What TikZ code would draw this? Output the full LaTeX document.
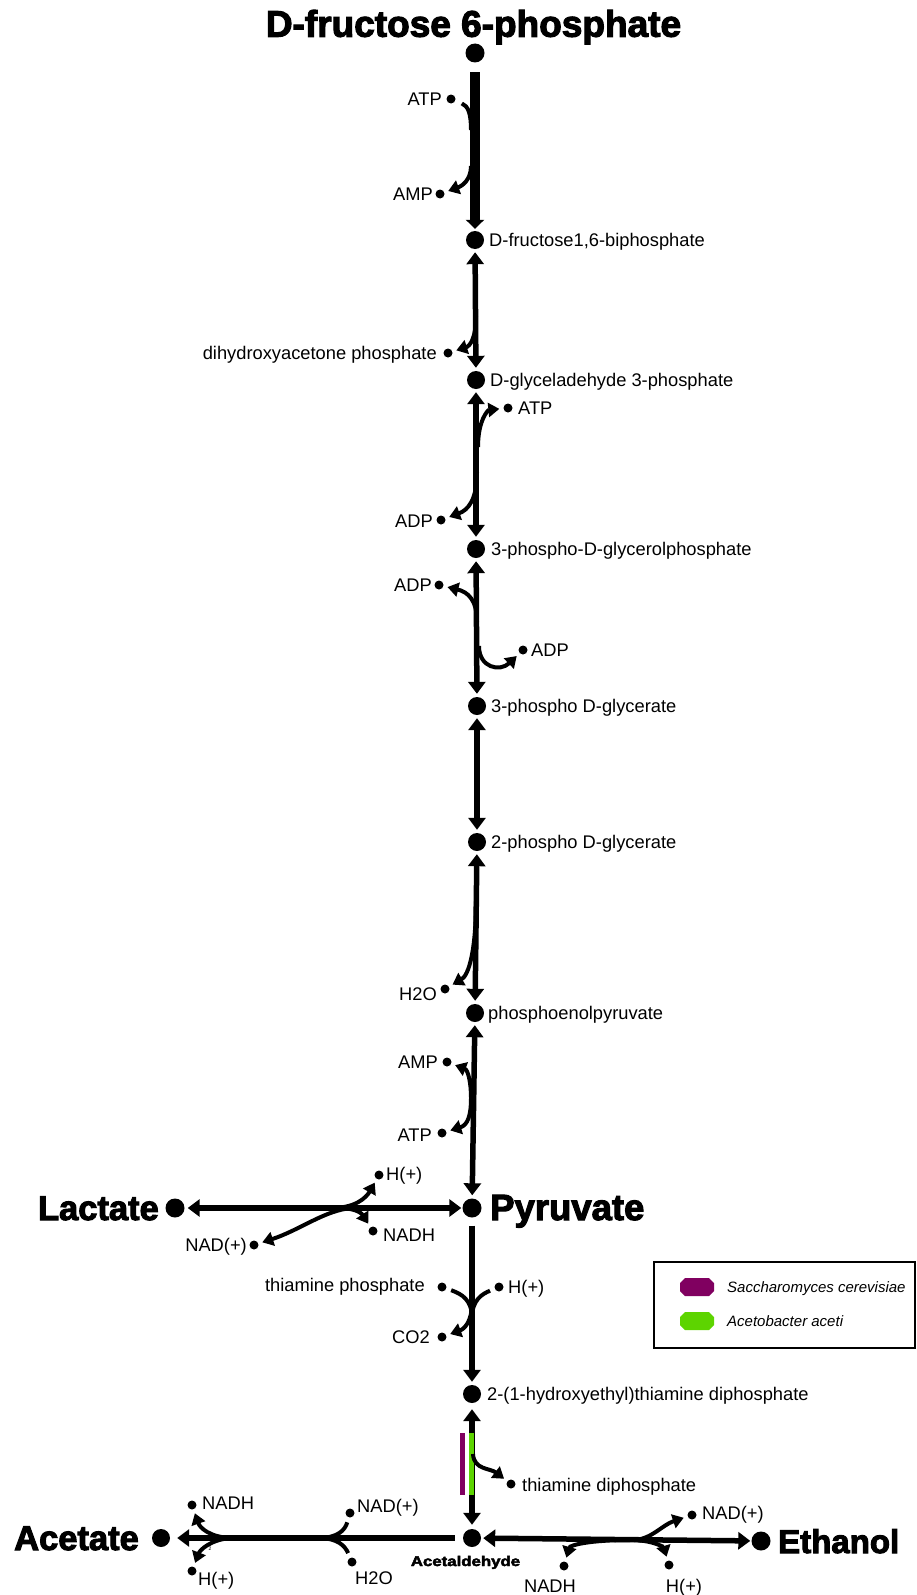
\documentclass[tikz,border=0pt]{standalone}
\usepackage{fontspec}
\setmainfont{Liberation Sans}
\newfontfamily\heavyfont[FakeBold=3]{Liberation Sans Bold}
\usetikzlibrary{arrows.meta}
\definecolor{scpurple}{HTML}{800060}
\definecolor{aagreen}{HTML}{5DD400}
\begin{document}
\begin{tikzpicture}[x=1pt,y=-1pt,
 bigdot/.style={circle,fill=black,inner sep=0pt,minimum size=18pt},
 smalldot/.style={circle,fill=black,inner sep=0pt,minimum size=9pt},
 lab/.style={inner sep=0pt,font=\fontsize{18.3}{20}\selectfont,yshift=-6.5pt},
 labR/.style={lab,anchor=base west},
 labL/.style={lab,anchor=base east},
 labC/.style={lab,anchor=base},
 prod/.style={inner sep=0pt,yshift=-12pt},
 legtext/.style={inner sep=0pt,anchor=base west,font=\itshape\fontsize{15}{17}\selectfont,yshift=-5.4pt},
 mline/.style={line width=5.5pt},
 mtip/.style={mline,-{Triangle[length=12pt,width=17pt]}},
 mboth/.style={mline,{Triangle[length=12pt,width=17pt]}-{Triangle[length=12pt,width=17pt]}},
 branch/.style={line width=4pt},
 btip/.style={branch,-{Triangle[length=11pt,width=14pt]}},
 bboth/.style={branch,{Triangle[length=11pt,width=14pt]}-{Triangle[length=11pt,width=14pt]}}
]
\useasboundingbox (0,0) rectangle (916,1595);

% ---------- main metabolites ----------
\node[bigdot,minimum size=19pt] (f6p) at (475,53) {};
\node[inner sep=0pt,anchor=base,font=\heavyfont\fontsize{37}{39}\selectfont,yshift=-13.2pt] (f6pl) at (473.5,23.5) {D-fructose 6-phosphate};
\node[bigdot] (f16bp) at (475,240) {};
\node[labR] (f16bpl) at (489,240) {D-fructose1,6-biphosphate};
\node[bigdot] (g3p) at (476,380) {};
\node[labR] (g3pl) at (490,380) {D-glyceladehyde 3-phosphate};
\node[bigdot] (pgp) at (476,549) {};
\node[labR] (pgpl) at (491,549) {3-phospho-D-glycerolphosphate};
\node[bigdot] (pg3) at (477,706) {};
\node[labR] (pg3l) at (491,706) {3-phospho D-glycerate};
\node[bigdot] (pg2) at (477,842) {};
\node[labR] (pg2l) at (491,842) {2-phospho D-glycerate};
\node[bigdot] (pep) at (475,1013) {};
\node[labR] (pepl) at (488,1013) {phosphoenolpyruvate};
\node[bigdot,minimum size=19pt] (pyr) at (472,1208) {};
\node[prod,anchor=base west,font=\heavyfont\fontsize{36.5}{38}\selectfont] (pyrl) at (490,1208) {Pyruvate};
\node[bigdot] (hte) at (472,1394) {};
\node[labR] (htel) at (487,1394) {2-(1-hydroxyethyl)thiamine diphosphate};
\node[bigdot] (ald) at (472,1538) {};
\node[inner sep=0pt,anchor=base,font=\heavyfont\fontsize{14}{16}\selectfont,yshift=-5pt] (aldl) at (465.5,1561) {\scalebox{1.2}[1]{Acetaldehyde}};
\node[bigdot,minimum size=19pt] (lac) at (175,1208) {};
\node[prod,anchor=base east,font=\heavyfont\fontsize{34.5}{36}\selectfont] (lacl) at (159,1208) {Lactate};
\node[bigdot] (ace) at (161,1538) {};
\node[prod,anchor=base west,font=\heavyfont\fontsize{34.5}{36}\selectfont] (acel) at (14,1538) {Acetate};
\node[bigdot,minimum size=19pt] (eth) at (761,1541) {};
\node[prod,anchor=base west,font=\heavyfont\fontsize{33}{35}\selectfont] (ethl) at (778,1541) {Ethanol};

% ---------- side metabolites ----------
\node[smalldot] (atpA) at (451,99) {};  \node[labL] at (442,99) {ATP};
\node[smalldot] (ampA) at (440,194) {}; \node[labL] at (433,194) {AMP};
\node[smalldot] (dhap) at (448,353) {}; \node[labL] at (437,353) {dihydroxyacetone phosphate};
\node[smalldot] (atpB) at (508,408) {}; \node[labR] at (518,408) {ATP};
\node[smalldot] (adpA) at (441,520) {}; \node[labL] at (433,521) {ADP};
\node[smalldot] (adpB) at (439,585) {}; \node[labL] at (432,585) {ADP};
\node[smalldot] (adpC) at (523,650) {}; \node[labR] at (531,650) {ADP};
\node[smalldot] (h2oA) at (445,989) {}; \node[labL] at (437,994) {H2O};
\node[smalldot] (ampB) at (447,1062) {}; \node[labL] at (438,1062) {AMP};
\node[smalldot] (atpC) at (442,1133) {}; \node[labL] at (432,1135) {ATP};
\node[smalldot] (hpA) at (379,1175) {}; \node[labR] at (386,1174) {H(+)};
\node[smalldot] (nadhA) at (373,1231) {}; \node[labR] at (383,1235) {NADH};
\node[smalldot] (nadA) at (254,1245) {}; \node[labL] at (247,1245) {NAD(+)};
\node[smalldot] (thp) at (442,1287) {}; \node[labL] at (425,1285) {thiamine phosphate};
\node[smalldot] (hpB) at (499,1287) {}; \node[labR] at (508,1287) {H(+)};
\node[smalldot] (co2) at (442,1337) {}; \node[labL] at (430,1337) {CO2};
\node[smalldot] (tdp) at (511,1484) {}; \node[labR] at (522,1485) {thiamine diphosphate};
\node[smalldot] (nadhB) at (192,1505) {}; \node[labR] at (202,1503) {NADH};
\node[smalldot] (hpC) at (192,1571) {}; \node[labR] at (198,1579) {H(+)};
\node[smalldot] (nadB) at (350,1513) {}; \node[labR] at (357,1506) {NAD(+)};
\node[smalldot] (h2oB) at (352,1562) {}; \node[labR] at (355,1578) {H2O};
\node[smalldot] (nadC) at (692,1515) {}; \node[labR] at (702,1513) {NAD(+)};
\node[smalldot] (nadhC) at (564,1566) {}; \node[labC] at (550,1586) {NADH};
\node[smalldot] (hpD) at (669,1565) {}; \node[labC] at (684,1586) {H(+)};
\node[inner sep=0pt,font=\fontsize{5}{5}\selectfont] (two) at (210,1549) {2};

% ---------- main reactions ----------
\draw[line width=10.5pt,-{Triangle[length=9pt,width=18pt]},shorten <=9.5pt,shorten >=2pt] (f6p) -- (f16bp);
\draw[mboth,shorten <=3pt,shorten >=3pt] (f16bp) -- (g3p);
\draw[mboth,shorten <=3pt,shorten >=3pt] (g3p) -- (pgp);
\draw[mboth,shorten <=3pt,shorten >=3pt] (pgp) -- (pg3);
\draw[mboth,shorten <=3pt,shorten >=3pt] (pg3) -- (pg2);
\draw[mboth,shorten <=3pt,shorten >=3pt] (pg2) -- (pep);
\draw[mboth,shorten <=3pt,shorten >=3pt] (pep) -- (pyr);
\draw[mboth,shorten <=3pt,shorten >=1pt] (lac) -- (pyr);
\draw[mtip,shorten <=8pt,shorten >=3pt] (pyr) -- (hte);
\draw[mboth,shorten <=6pt,shorten >=4pt] (hte) -- (ald);
\draw[mtip,shorten <=8pt,shorten >=7pt] (ald) -- (ace);
\draw[mboth,shorten <=2pt,shorten >=1pt] (ald) -- (eth);

% organism markers
\draw[line width=4.5pt,aagreen] (471.5,1433) -- (471.5,1495);
\draw[line width=5pt,scpurple] (462.5,1433) -- (462.5,1495);

% ---------- side reactions ----------
\coordinate (j1) at (471,130);
\draw[branch,shorten <=7pt] (atpA) .. controls (468,106) and (471,113) .. (j1);
\coordinate (j2) at (471,166);
\draw[btip,shorten >=4pt] (j2) .. controls (471,180) and (462,186) .. (ampA);
\coordinate (j3) at (476,316);
\draw[btip,shorten >=4pt] (j3) .. controls (476,338) and (470,346) .. (dhap);
\coordinate (j4) at (478,447);
\draw[btip,shorten >=4pt] (j4) .. controls (478,420) and (488,410) .. (atpB);
\coordinate (j5) at (477,472);
\draw[btip,shorten >=4pt] (j5) .. controls (477,500) and (468,510) .. (adpA);
\coordinate (j6) at (477,622);
\draw[btip,shorten >=4pt] (j6) .. controls (477,600) and (468,592) .. (adpB);
\coordinate (j7) at (479,646);
\draw[btip,shorten >=4pt] (j7) .. controls (479,668) and (500,672) .. (adpC);
\coordinate (j8) at (476,900);
\draw[btip,shorten >=4pt] (j8) .. controls (476,950) and (469,975) .. (h2oA);
\draw[bboth,shorten <=4pt,shorten >=4pt] (ampB) .. controls (468,1070) and (471,1082) .. (471,1098) .. controls (471,1115) and (468,1125) .. (atpC);
\coordinate (j9) at (332,1208);
\draw[btip,shorten >=4pt] (j9) .. controls (355,1208) and (366,1198) .. (hpA);
\coordinate (j10) at (342,1208);
\draw[btip,shorten >=4pt] (j10) .. controls (358,1209) and (362,1214) .. (nadhA);
\coordinate (j11) at (352,1208);
\draw[btip,shorten >=4pt] (j11) .. controls (325,1210) and (300,1230) .. (nadA);
\coordinate (j12) at (472,1318);
\draw[branch,shorten <=5pt] (thp) .. controls (462,1294) and (472,1300) .. (j12);
\draw[branch,shorten <=5pt] (hpB) .. controls (482,1294) and (472,1300) .. (j12);
\coordinate (j13) at (472,1303);
\draw[btip,shorten >=4pt] (j13) .. controls (472,1322) and (464,1329) .. (co2);
\coordinate (j14) at (473,1454);
\draw[btip,shorten >=4pt] (j14) .. controls (474,1470) and (490,1468) .. (tdp);
\coordinate (j15) at (230,1538);
\draw[btip,shorten >=4pt] (j15) .. controls (210,1537) and (200,1528) .. (nadhB);
\draw[btip,shorten >=4pt] (j15) .. controls (210,1540) and (200,1550) .. (hpC);
\coordinate (j16) at (318,1538);
\draw[branch,shorten <=5pt] (nadB) .. controls (345,1530) and (338,1538) .. (j16);
\draw[branch,shorten <=5pt] (h2oB) .. controls (345,1546) and (338,1538) .. (j16);
\coordinate (j17) at (634,1540);
\draw[btip,shorten >=4pt] (j17) .. controls (652,1539) and (662,1525) .. (nadC);
\draw[btip,shorten >=4pt] (j17) .. controls (656,1541) and (664,1548) .. (hpD);
\coordinate (j18) at (630,1540);
\draw[btip,shorten >=4pt] (j18) .. controls (590,1540) and (570,1545) .. (nadhC);

% ---------- legend ----------
\draw[line width=2pt] (654,1262) rectangle (915,1348);
\fill[scpurple] (685,1278) -- (709,1278) -- (714,1283) -- (714,1291) -- (709,1296) -- (685,1296) -- (680,1291) -- (680,1283) -- cycle;
\fill[aagreen] (685,1312) -- (709,1312) -- (714,1317) -- (714,1325) -- (709,1330) -- (685,1330) -- (680,1325) -- (680,1317) -- cycle;
\node[legtext] (leg1) at (727,1287) {Saccharomyces cerevisiae};
\node[legtext] (leg2) at (727,1321) {Acetobacter aceti};
\end{tikzpicture}
\end{document}
